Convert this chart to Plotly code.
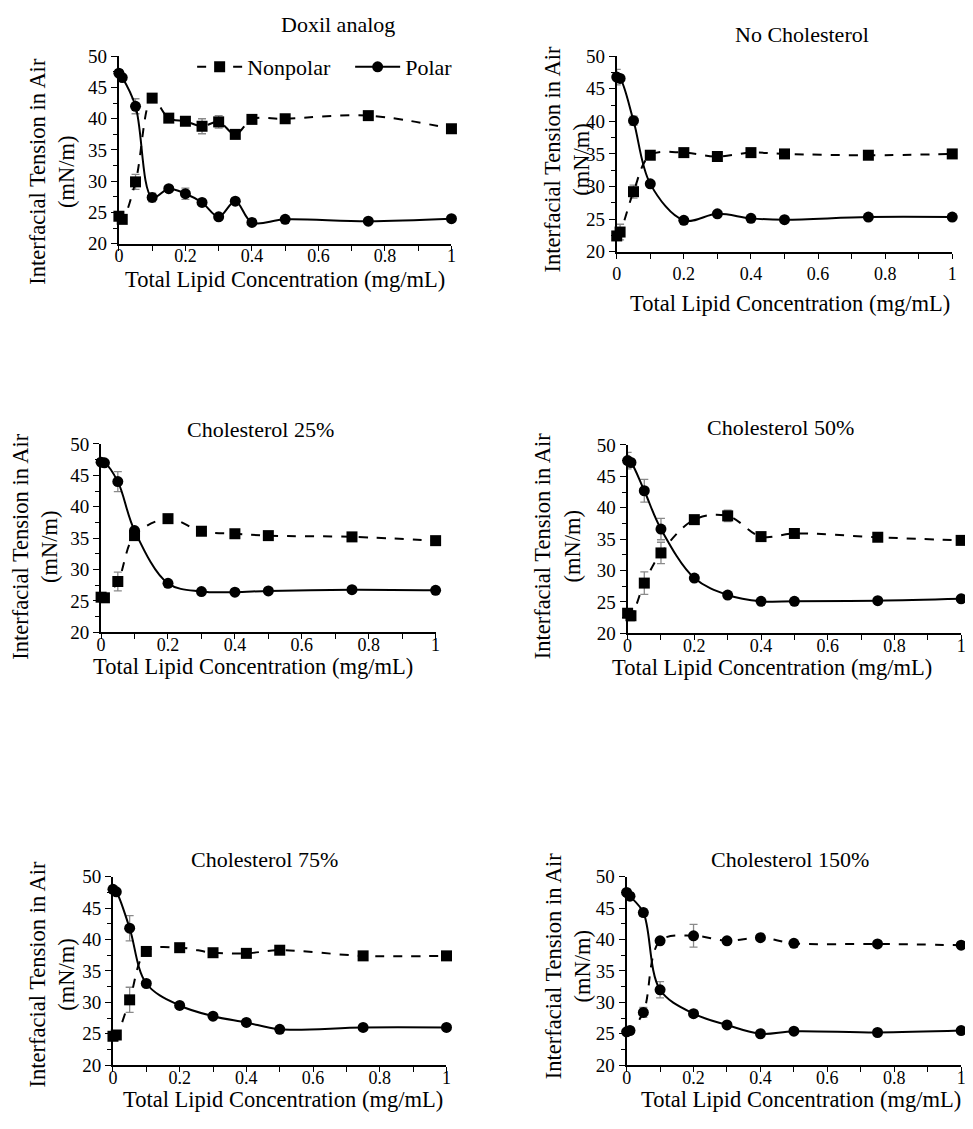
import plotly.graph_objects as go

W, H = 973, 1129
OFF = 8  # the page body adds an 8px margin; compensate
FONT = "Liberation Serif"

# ---------------- data ----------------
x_doxil = [0, 0.01, 0.05, 0.1, 0.15, 0.2, 0.25, 0.3, 0.35, 0.4, 0.5, 0.75, 1.0]
doxil_nonpolar = [24.4, 23.9, 29.9, 43.3, 40.1, 39.6, 38.8, 39.5, 37.5, 39.9, 40.0, 40.5, 38.4]
doxil_nonpolar_err = [0.5, 0.5, 1.2, 0.5, 0, 0.3, 1.2, 1.0, 0, 0, 0, 0, 0]
doxil_polar = [47.3, 46.6, 42.0, 27.4, 28.8, 28.0, 26.6, 24.3, 26.8, 23.4, 23.9, 23.6, 24.0]
doxil_polar_err = [0.5, 0, 1.2, 0.7, 0, 0.9, 0, 0, 0, 0, 0, 0, 0]

x_conc = [0, 0.01, 0.05, 0.1, 0.2, 0.3, 0.4, 0.5, 0.75, 1.0]

nochol_nonpolar = [22.4, 23.0, 29.2, 34.8, 35.2, 34.6, 35.2, 35.0, 34.8, 35.0]
nochol_nonpolar_err = [0.6, 1.2, 1.0, 0, 0, 0, 0, 0, 0, 0]
nochol_polar = [46.8, 46.6, 40.1, 30.4, 24.8, 25.8, 25.1, 24.9, 25.3, 25.3]
nochol_polar_err = [1.2, 0.5, 0.7, 0, 0, 0, 0, 0, 0, 0]

chol25_nonpolar = [25.6, 25.5, 28.1, 35.4, 38.1, 36.1, 35.7, 35.4, 35.2, 34.6]
chol25_nonpolar_err = [0.3, 0, 1.5, 0.5, 0, 0, 0, 0, 0, 0]
chol25_polar = [47.1, 47.0, 44.0, 36.2, 27.8, 26.5, 26.4, 26.6, 26.8, 26.7]
chol25_polar_err = [0, 0, 1.6, 0.3, 0, 0, 0, 0, 0, 0]

chol50_nonpolar = [23.2, 22.8, 28.0, 32.8, 38.1, 38.7, 35.4, 35.9, 35.3, 34.8]
chol50_nonpolar_err = [0.6, 0.8, 1.8, 1.7, 0, 0.9, 0, 0, 0, 0]
chol50_polar = [47.5, 47.2, 42.7, 36.6, 28.8, 26.1, 25.1, 25.1, 25.2, 25.5]
chol50_polar_err = [1.3, 0, 1.8, 1.7, 0, 0, 0, 0, 0, 0]

chol75_nonpolar = [24.6, 24.8, 30.4, 38.1, 38.7, 37.9, 37.8, 38.3, 37.4, 37.4]
chol75_nonpolar_err = [0.3, 0.3, 2.0, 0.5, 0, 0, 0, 0, 0, 0]
chol75_polar = [48.0, 47.6, 41.8, 33.0, 29.5, 27.8, 26.8, 25.7, 26.0, 26.0]
chol75_polar_err = [0.3, 0.3, 2.0, 0, 0, 0, 0, 0, 0, 0]

chol150_nonpolar = [25.3, 25.5, 28.4, 39.8, 40.6, 39.8, 40.3, 39.4, 39.3, 39.1]
chol150_nonpolar_err = [0.3, 0.3, 0.8, 0.5, 1.8, 0.3, 0, 0, 0, 0]
chol150_polar = [47.5, 46.9, 44.3, 32.0, 28.2, 26.4, 25.0, 25.4, 25.2, 25.5]
chol150_polar_err = [0.5, 0.3, 0.6, 1.3, 0.5, 0, 0, 0, 0, 0]

titles = ["Doxil analog", "No Cholesterol", "Cholesterol 25%",
          "Cholesterol 50%", "Cholesterol 75%", "Cholesterol 150%"]
y_title = "Interfacial Tension in Air<br>(mN/m)"
x_title = "Total Lipid Concentration (mg/mL)"

panels = [
    (x_doxil, doxil_nonpolar, doxil_nonpolar_err, doxil_polar, doxil_polar_err, "square"),
    (x_conc, nochol_nonpolar, nochol_nonpolar_err, nochol_polar, nochol_polar_err, "square"),
    (x_conc, chol25_nonpolar, chol25_nonpolar_err, chol25_polar, chol25_polar_err, "square"),
    (x_conc, chol50_nonpolar, chol50_nonpolar_err, chol50_polar, chol50_polar_err, "square"),
    (x_conc, chol75_nonpolar, chol75_nonpolar_err, chol75_polar, chol75_polar_err, "square"),
    (x_conc, chol150_nonpolar, chol150_nonpolar_err, chol150_polar, chol150_polar_err, "circle"),
]

# ---------------- layout geometry (target page pixels) ----------------
boxes = [  # x0, x1, y at 50, y at 20
    (115, 451, 47, 238),
    (618, 957, 47, 246),
    (97, 435, 442, 634),
    (629, 966, 443, 635),
    (109, 446, 883, 1075),
    (628, 966, 883, 1075),
]
title_pos = [(336, 15), (805, 25), (258, 427), (783, 425), (262, 865), (793, 865)]
xtitle_gap = [36, 53, 35, 35, 35, 35]
label_standoff = [-10, 0, -10, -10, -10, -10]
xtitle_x = [283, 793, 250, 775, 281, 804]
ytitle_pos = [(47, 164), (568, 152), (30, 546), (558, 546), (47, 982), (569, 974)]


def px(x):
    return (x - OFF) / W


def py(y):
    return 1 - (y - OFF) / H


fig = go.Figure()
layout = dict(
    width=W, height=H, margin=dict(l=0, r=0, t=0, b=0),
    paper_bgcolor="white", plot_bgcolor="white",
    font=dict(family=FONT, color="black"),
    showlegend=True,
    legend=dict(orientation="h", x=px(189), y=py(58), xanchor="left", yanchor="middle",
                font=dict(family=FONT, size=22, color="black"), bgcolor="rgba(0,0,0,0)",
                itemwidth=45, entrywidth=98, entrywidthmode="pixels", tracegroupgap=0),
)
annotations = []

for i, (xs, npv, npe, pv, pe, np_sym) in enumerate(panels):
    n = "" if i == 0 else str(i + 1)
    xa, ya = "x" + n, "y" + n
    x0, x1, yt, yb = boxes[i]
    err_style = dict(type="data", color="#8a8a8a", thickness=1.3, width=4, visible=True)
    fig.add_trace(go.Scatter(
        x=xs, y=npv, mode="lines+markers", name="Nonpolar", showlegend=(i == 0),
        line=dict(color="black", width=2, dash="dash", shape="spline", smoothing=1),
        marker=dict(symbol=np_sym, size=11, color="black"),
        error_y=dict(array=npe, **err_style), xaxis=xa, yaxis=ya, cliponaxis=False))
    fig.add_trace(go.Scatter(
        x=xs, y=pv, mode="lines+markers", name="Polar", showlegend=(i == 0),
        line=dict(color="black", width=2, shape="spline", smoothing=1),
        marker=dict(symbol="circle", size=11, color="black"),
        error_y=dict(array=pe, **err_style), xaxis=xa, yaxis=ya, cliponaxis=False))

    layout["xaxis" + n] = dict(
        domain=[px(x0), px(x1)], range=[0, 1], anchor=ya, tick0=0, dtick=0.2,
        ticks="outside", ticklen=5, tickwidth=1.3, tickcolor="black",
        ticklabelstandoff=label_standoff[i],
        minor=dict(dtick=0.1, ticks="outside", ticklen=5, tickwidth=1.3, tickcolor="black"),
        showline=True, linecolor="black", linewidth=2, showgrid=False, zeroline=False,
        tickfont=dict(family=FONT, size=18, color="black"), fixedrange=True)
    layout["yaxis" + n] = dict(
        domain=[py(yb), py(yt)], range=[20, 50], anchor=xa, tick0=20, dtick=5,
        ticks="outside", ticklen=6, tickwidth=1.3, tickcolor="black",
        minor=dict(dtick=2.5, ticks="outside", ticklen=4, tickwidth=1.3, tickcolor="black"),
        showline=True, linecolor="black", linewidth=2, showgrid=False, zeroline=False,
        tickfont=dict(family=FONT, size=19, color="black"), fixedrange=True)

    tx, ty = title_pos[i]
    annotations.append(dict(text=titles[i], x=px(tx), y=py(ty), xref="paper", yref="paper",
                            showarrow=False, xanchor="center", yanchor="middle",
                            font=dict(family=FONT, size=22, color="black")))
    annotations.append(dict(text=x_title, x=px(xtitle_x[i]), y=py(yb + xtitle_gap[i]),
                            xref="paper", yref="paper", showarrow=False,
                            xanchor="center", yanchor="middle",
                            font=dict(family=FONT, size=22.5, color="black")))
    yx, yy = ytitle_pos[i]
    annotations.append(dict(text=y_title, x=px(yx), y=py(yy), xref="paper", yref="paper",
                            showarrow=False, xanchor="center", yanchor="middle", textangle=-90,
                            font=dict(family=FONT, size=22.5, color="black")))

layout["annotations"] = annotations
fig.update_layout(**layout)
fig.write_html("out.html")
